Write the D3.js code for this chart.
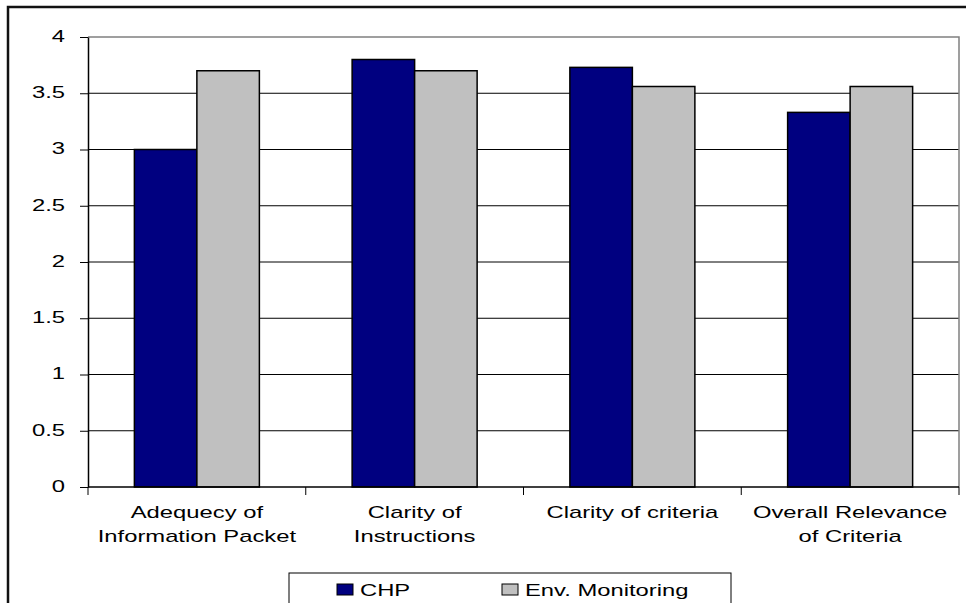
<!DOCTYPE html>
<meta charset="utf-8">
<style>
 body { margin: 0; background: #fff; }
 svg { font-family: "Liberation Sans", Arial, sans-serif; }
 .grid line { stroke: #000; stroke-width: 1; }
 .axis path, .axis line { stroke: #000; }
 .axis text { fill: #000; font-size: 17px; }
 .bar { stroke: #000; stroke-width: 1.5; }
 .legend text { font-size: 17px; fill: #000; }
</style>
<svg width="966" height="603"></svg>
<script src="https://cdn.jsdelivr.net/npm/d3@7"></script>
<script>

 var categories = [
   ['Adequecy of', 'Information Packet'],
   ['Clarity of', 'Instructions'],
   ['Clarity of criteria'],
   ['Overall Relevance', 'of Criteria']
 ]
 var series = ['CHP', 'Env. Monitoring']
 var chp = [3.0, 3.8, 3.73, 3.33]
 var envMon = [3.7, 3.7, 3.56, 3.56]
 var yTicks = [0, 0.5, 1, 1.5, 2, 2.5, 3, 3.5, 4]
 var colors = ['#000080', '#c0c0c0']

 var stretch = 1.4 // the original text is drawn wide

 var svg = d3.select('svg')
 var margin = {top: 37, left: 88, right: 959, bottom: 487}

 // outer chart border
 svg.append('rect')
    .attr('x', 8).attr('y', 7)
    .attr('width', 1000).attr('height', 700)
    .attr('fill', 'none').attr('stroke', '#111').attr('stroke-width', 2.5)

 var x = d3.scaleBand()
           .domain(d3.range(categories.length))
           .range([margin.left, margin.right])
 var xs = d3.scaleBand()
            .domain(series)
            .range([0, 125])
 var y = d3.scaleLinear()
           .domain([0, 4])
           .range([margin.bottom, margin.top])

 // gridlines
 svg.append('g').attr('class', 'grid')
    .selectAll('line')
    .data(yTicks.filter(d => d > 0 && d < 4))
    .join('line')
    .attr('x1', margin.left).attr('x2', margin.right)
    .attr('y1', d => y(d)).attr('y2', d => y(d))

 // plot area border (top & right)
 svg.append('path')
    .attr('d', `M${margin.left},${margin.top}H${margin.right}V${margin.bottom}`)
    .attr('fill', 'none').attr('stroke', '#808080').attr('stroke-width', 1.5)

 var data = categories.map((c, i) => [chp[i], envMon[i]])

 var groups = svg.append('g')
    .selectAll('g')
    .data(data)
    .join('g')
    .attr('transform', (d, i) => `translate(${x(i) + x.bandwidth() / 2 - 62.5},0)`)

 groups.selectAll('rect')
    .data(d => d.map((v, j) => ({v: v, s: series[j], j: j})))
    .join('rect')
    .attr('class', 'bar')
    .attr('x', d => xs(d.s))
    .attr('width', xs.bandwidth())
    .attr('y', d => y(d.v))
    .attr('height', d => y(0) - y(d.v))
    .attr('fill', d => colors[d.j])

 // y axis
 var yAxis = svg.append('g')
    .attr('class', 'axis')
    .attr('transform', `translate(${margin.left},0)`)
    .call(d3.axisLeft(y).tickValues(yTicks).tickFormat(d3.format('')).tickSize(8).tickSizeOuter(0))
 yAxis.selectAll('text')
    .attr('x', 0)
    .attr('transform', `translate(-23,-1) scale(${stretch},1)`)
 yAxis.select('.domain').attr('stroke-width', 1.5)

 // x axis
 var xAxis = svg.append('g')
    .attr('class', 'axis')
    .attr('transform', `translate(0,${margin.bottom})`)
 xAxis.append('line')
    .attr('x1', margin.left).attr('x2', margin.right)
    .attr('stroke-width', 1.5)
 xAxis.selectAll('.tk')
    .data(d3.range(categories.length + 1))
    .join('line')
    .attr('class', 'tk')
    .attr('x1', i => margin.left + i * x.step()).attr('x2', i => margin.left + i * x.step())
    .attr('y1', 0).attr('y2', 8)
 xAxis.selectAll('text')
    .data(categories)
    .join('text')
    .attr('text-anchor', 'middle')
    .attr('transform', (d, i) => `translate(${x(i) + x.bandwidth() / 2},31) scale(${stretch},1)`)
    .selectAll('tspan')
    .data(d => d)
    .join('tspan')
    .attr('x', 0)
    .attr('dy', (d, k) => k ? 24 : 0)
    .text(d => d)

 // legend
 var legend = svg.append('g').attr('class', 'legend')
 legend.append('rect')
    .attr('x', 289).attr('y', 573)
    .attr('width', 442).attr('height', 60)
    .attr('fill', '#fff').attr('stroke', '#000').attr('stroke-width', 1)
 var lx = [337, 502]
 var items = legend.selectAll('g.item')
    .data(series)
    .join('g')
    .attr('class', 'item')
    .attr('transform', (d, i) => `translate(${lx[i]},584)`)
 items.append('rect')
    .attr('width', 16).attr('height', 11)
    .attr('fill', (d, i) => colors[i])
    .attr('stroke', '#000').attr('stroke-width', 1)
 items.append('text')
    .attr('transform', `translate(23,12) scale(${stretch},1)`)
    .text(d => d)

</script>
